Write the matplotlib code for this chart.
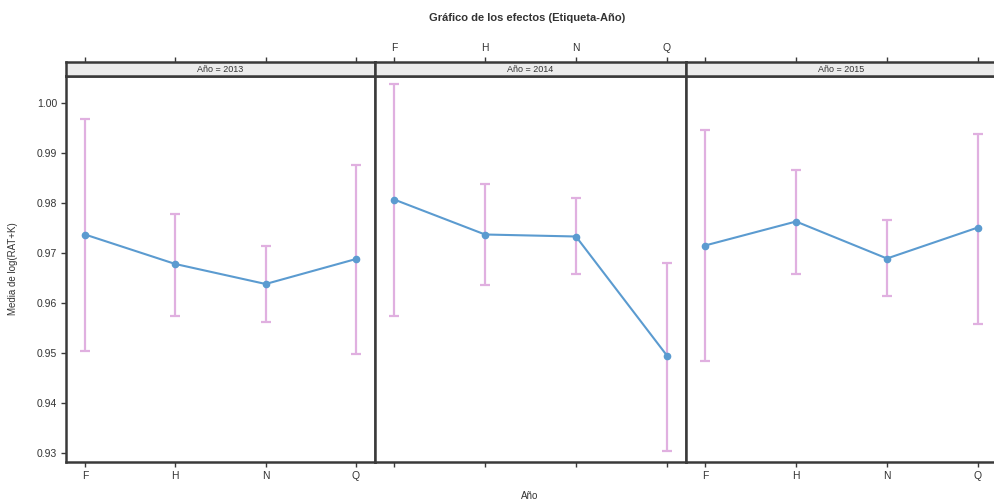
import matplotlib
matplotlib.use("Agg")
import matplotlib.pyplot as plt
import numpy as np

plt.rcParams["font.family"] = ["Liberation Sans", "DejaVu Sans"]

etiquetas = ["F", "H", "N", "Q"]
anios = ["2013", "2014", "2015"]

medias = [
    [0.9737, 0.9678, 0.9638, 0.9688],
    [0.9807, 0.9737, 0.9733, 0.9495],
    [0.9715, 0.9763, 0.9689, 0.9751],
]
inferior = [
    [0.9505, 0.9575, 0.9563, 0.9499],
    [0.9574, 0.9636, 0.9659, 0.9305],
    [0.9484, 0.9659, 0.9615, 0.9559],
]
superior = [
    [0.9968, 0.9779, 0.9715, 0.9876],
    [1.0038, 0.9839, 0.9811, 0.9681],
    [0.9946, 0.9866, 0.9767, 0.9938],
]

y_ticks = [0.93, 0.94, 0.95, 0.96, 0.97, 0.98, 0.99, 1.00]

W, H = 994, 503
EDGE = "#3a3a3a"
LINE = "#5b9bd0"
ERR = "#e0b0e0"


def px(x0, y0, x1, y1):
    return [x0 / W, 1 - y1 / H, (x1 - x0) / W, (y1 - y0) / H]


def main():
    fig = plt.figure(figsize=(W / 100, H / 100), dpi=100)
    x = np.arange(len(etiquetas))
    bounds = [(66, 375), (375, 686), (686, 997)]

    for i, (x0, x1) in enumerate(bounds):
        ax = fig.add_axes(px(x0, 76, x1, 462))
        strip = fig.add_axes(px(x0, 62, x1, 76))

        m = np.array(medias[i])
        lo = m - np.array(inferior[i])
        hi = np.array(superior[i]) - m
        ax.errorbar(x, m, yerr=[lo, hi], fmt="none", ecolor=ERR,
                    elinewidth=1.6, capsize=3.6, capthick=1.6, zorder=2)
        ax.plot(x, m, color=LINE, linewidth=1.5, marker="o",
                markersize=4.5, zorder=3)

        ax.set_xlim(-0.21, 3.21)
        ax.set_ylim(0.9282, 1.0054)
        ax.set_xticks(x)
        ax.set_xticklabels(etiquetas)
        ax.set_yticks(y_ticks)
        ax.set_yticklabels([f"{v:.2f}" for v in y_ticks])
        for s in ax.spines.values():
            s.set_linewidth(1.8)
            s.set_color(EDGE)
        ax.tick_params(axis="both", direction="out", length=3.5, width=1,
                       color=EDGE, labelsize=7.5, labelcolor="#333333", pad=3)
        if i == 0:
            ax.tick_params(axis="y", left=True, labelleft=True)
        else:
            ax.tick_params(axis="y", left=False, labelleft=False)
        if i == 1:
            ax.tick_params(axis="x", labelbottom=False)

        strip.set_facecolor("#ececec")
        strip.set_xlim(-0.21, 3.21)
        strip.set_ylim(0, 1)
        strip.set_yticks([])
        strip.set_xticks(x)
        strip.set_xticklabels(etiquetas)
        strip.xaxis.tick_top()
        strip.tick_params(axis="x", direction="out", length=3.5, width=1,
                          color=EDGE, labelsize=7.5, labelcolor="#333333",
                          pad=3, labeltop=(i == 1))
        for s in strip.spines.values():
            s.set_linewidth(1.8)
            s.set_color(EDGE)
        strip.text(1.5, 0.45, f"Año = {anios[i]}", ha="center", va="center",
                   fontsize=6.5, color="#333333")

    fig.text(527 / W, 1 - 18 / H, "Gráfico de los efectos (Etiqueta-Año)",
             ha="center", va="center", fontsize=8, fontweight="bold",
             color="#333333")
    fig.text(13 / W, 1 - 269 / H, "Media de log(RAT+K)", rotation=90,
             ha="center", va="center", fontsize=7, color="#333333")
    fig.text(530 / W, 2 / H, "Año", ha="center", va="bottom",
             fontsize=7, color="#333333")

    fig.savefig("out.png", dpi=100)


if __name__ == "__main__":
    main()
